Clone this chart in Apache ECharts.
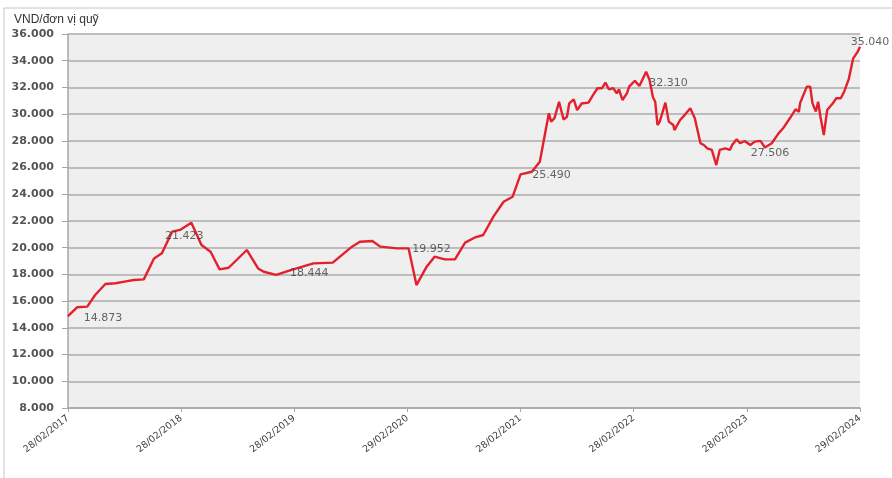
<!DOCTYPE html>
<html>
<head>
<meta charset="utf-8">
<script src="https://cdn.jsdelivr.net/npm/echarts@6/dist/echarts.min.js"></script>
<style>
html,body{margin:0;padding:0;background:#fff;}
#c{width:892px;height:478px;}
</style>
</head>
<body>
<div id="c"></div>
<script>
// Years elapsed since 28/02/2017 (x) and NAV per fund unit in VND (y)
const t = [0.00,0.08,0.17,0.24,0.33,0.42,0.50,0.58,0.67,0.76,0.83,0.92,0.99,1.09,1.18,1.26,1.34,1.42,1.58,1.68,1.73,1.84,1.99,2.17,2.34,2.51,2.58,2.69,2.76,2.91,3.01,3.08,3.17,3.24,3.33,3.42,3.51,3.60,3.67,3.76,3.85,3.93,4.00,4.10,4.17,4.25,4.27,4.30,4.34,4.38,4.41,4.43,4.47,4.50,4.54,4.60,4.64,4.68,4.72,4.75,4.78,4.82,4.85,4.87,4.90,4.94,4.96,5.01,5.05,5.11,5.14,5.17,5.19,5.21,5.23,5.28,5.31,5.35,5.36,5.41,5.45,5.50,5.54,5.59,5.62,5.65,5.69,5.73,5.76,5.81,5.85,5.87,5.91,5.94,5.98,6.03,6.07,6.12,6.16,6.22,6.28,6.32,6.38,6.43,6.46,6.47,6.53,6.56,6.58,6.61,6.63,6.65,6.68,6.71,6.76,6.79,6.83,6.86,6.90,6.94,6.98,7.00];
const nav = [14873,15540,15590,16460,17280,17340,17460,17580,17630,19200,19580,21200,21330,21870,20200,19700,18380,18500,19830,18450,18200,17960,18380,18830,18880,20080,20450,20500,20080,19950,19952,17200,18580,19330,19130,19130,20380,20780,20950,22330,23440,23820,25490,25690,26440,30060,29440,29700,30930,29600,29800,30800,31100,30300,30800,30860,31430,31940,31940,32360,31860,31940,31560,31860,31060,31560,32060,32500,32100,33180,32560,31260,30930,29190,29440,30860,29440,29190,28810,29560,29930,30440,29690,27820,27690,27440,27320,26190,27320,27440,27320,27690,28120,27820,27990,27690,27940,28000,27506,27820,28560,28940,29690,30360,30180,30810,32060,32060,30810,30200,30930,29820,28440,30310,30810,31190,31190,31680,32600,34180,34680,35040];
const xTickLabels = ['28/02/2017','28/02/2018','28/02/2019','29/02/2020','28/02/2021','28/02/2022','28/02/2023','29/02/2024'];
// Annotated points: index into the series and the text shown
const annIdx = [0, 13, 22, 30, 42, 70, 98, 121];
const annText = ['14.873','21.423','18.444','19.952','25.490','32.310','27.506','35.040'];
const annOffset = [[35,2],[-7,13],[16,4],[23,1],[31,1],[19,3],[5,6],[10,-5]];

const series = t.map((x,i)=>[x, nav[i]]);
const annData = annIdx.map((k,j)=>({
  value:[t[k], nav[k]],
  label:{offset: annOffset[j], formatter: annText[j]}
}));

const chart = echarts.init(document.getElementById('c'));
chart.setOption({
  animation:false,
  backgroundColor:'#ffffff',
  textStyle:{fontFamily:'DejaVu Sans'},
  graphic:[{type:'rect', shape:{x:4,y:8,width:900,height:480},
    style:{fill:'none', stroke:'#c4c4c4', lineWidth:1}, silent:true, z:-10}],
  grid:{left:68,right:32,top:34,bottom:70,show:true,backgroundColor:'#efefef',borderWidth:0},
  xAxis:{type:'value',min:0,max:7,interval:1,
    axisLine:{show:true,onZero:false,lineStyle:{color:'#a6a6a6',width:1.5}},
    axisTick:{show:true,length:4,lineStyle:{color:'#a6a6a6'}},
    splitLine:{show:false},
    axisLabel:{rotate:38,fontSize:9.5,color:'#404040',margin:9,
      formatter:v=>xTickLabels[Math.round(v)]||''}},
  yAxis:{type:'value',min:8000,max:36000,interval:2000,
    name:'VND/đơn vị quỹ',nameLocation:'end',nameGap:8,
    nameTextStyle:{align:'left',padding:[0,0,0,-54],fontSize:12,color:'#333',fontFamily:'Liberation Sans'},
    axisLine:{show:true,lineStyle:{color:'#a6a6a6',width:1.5}},
    axisTick:{show:true,length:6,lineStyle:{color:'#a6a6a6'}},
    splitLine:{show:true,lineStyle:{color:'#ababab',width:1.5}},
    axisLabel:{fontSize:11,fontWeight:'bold',color:'#555555',margin:14,
      formatter:v=>(v/1000).toFixed(3)}},
  series:[
    {type:'line',data:series,symbol:'none',smooth:false,
     lineStyle:{color:'#e3202c',width:2.4},z:3},
    {type:'scatter',data:annData,symbolSize:0,z:4,silent:true,
     label:{show:true,position:'inside',fontSize:11,color:'#404040'}}
  ]
});
</script>
</body>
</html>
